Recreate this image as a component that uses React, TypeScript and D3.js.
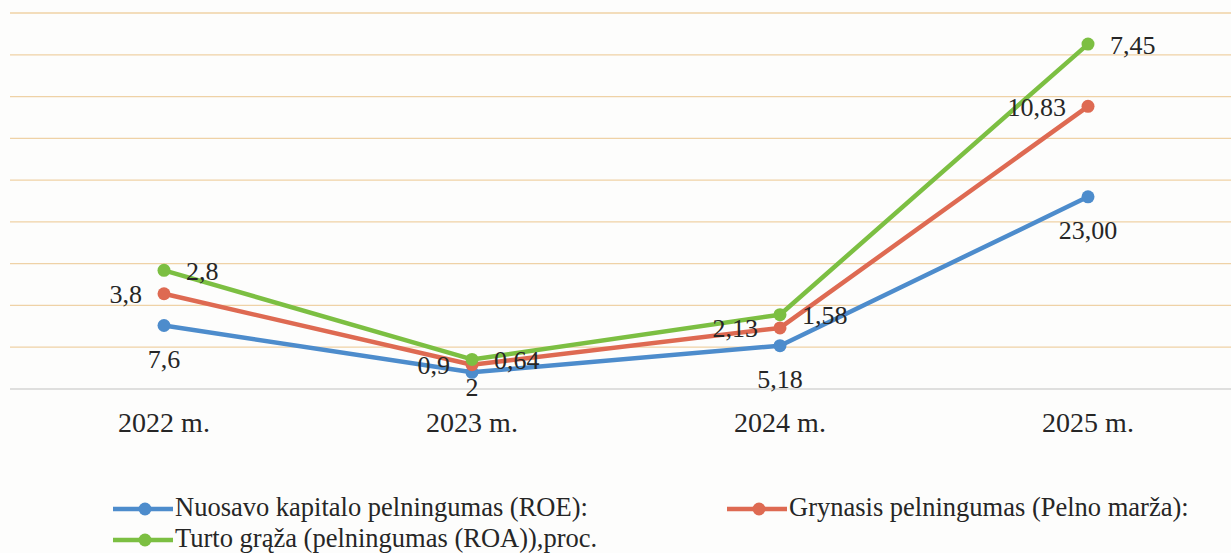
import React from "react";
import * as d3 from "d3";

const categories = ["2022 m.", "2023 m.", "2024 m.", "2025 m."];
const roeValues = [7.6, 2, 5.18, 23.0];
const marginValues = [3.8, 0.9, 2.13, 10.83];
const roaValues = [2.8, 0.64, 1.58, 7.45];
const roeLabels = ["7,6", "2", "5,18", "23,00"];
const marginLabels = ["3,8", "0,9", "2,13", "10,83"];
const roaLabels = ["2,8", "0,64", "1,58", "7,45"];
const seriesNames = [
  "Nuosavo kapitalo pelningumas (ROE):",
  "Grynasis pelningumas (Pelno marža):",
  "Turto grąža (pelningumas (ROA)),proc.",
];
const yTicks = [0, 5, 10, 15, 20, 25, 30, 35, 40, 45];

const W = 1231;
const H = 553;
const COLORS = ["#4d8ccc", "#de6a52", "#7cbf42"];
const FONT = "'Liberation Serif', 'Times New Roman', serif";

export default function App() {
  const x = d3.scaleBand<string>().domain(categories).range([10, 1242]).padding(0);
  const y = d3.scaleLinear().domain([0, 45]).range([389, 13]);
  const cx = (c: string) => (x(c) as number) + x.bandwidth() / 2;

  const table = categories.map((c, i) => ({
    cat: c,
    roe: roeValues[i],
    margin: marginValues[i],
    roa: roaValues[i],
  }));
  const keys = ["roe", "margin", "roa"];
  const stacked = d3.stack<any>().keys(keys)(table);
  const labelSets = [roeLabels, marginLabels, roaLabels];

  const line = d3
    .line<any>()
    .x((d) => cx(d.data.cat))
    .y((d) => y(d[1]));

  return (
    <svg
      width={W}
      height={H}
      style={{ position: "absolute", left: 0, top: 0, background: "#ffffff" }}
      fontFamily={FONT}
    >
      <rect x={0} y={0} width={W} height={H} fill="#fdfdfc" />
      {yTicks.map((t) => (
        <line
          key={t}
          x1={10}
          x2={W}
          y1={y(t)}
          y2={y(t)}
          stroke={t === 0 ? "#d4d4d4" : "#efd2a6"}
          strokeWidth={t === 0 ? 1.5 : 1.3}
        />
      ))}
      {stacked.map((s, si) => (
        <g key={si}>
          <path d={line(s as any) || ""} fill="none" stroke={COLORS[si]} strokeWidth={4.5} strokeLinejoin="round" />
          {s.map((d, i) => (
            <circle key={i} cx={cx(d.data.cat)} cy={y(d[1])} r={6.5} fill={COLORS[si]} />
          ))}
        </g>
      ))}
      {stacked.map((s, si) =>
        s.map((d, i) => {
          const px = cx(d.data.cat);
          const py = y(d[1]);
          const txt = labelSets[si][i];
          if (si === 0) {
            const dy = i === 1 ? 15 : 34;
            return (
              <text key={`l${si}-${i}`} x={px} y={py + dy} textAnchor="middle" dominantBaseline="central" fontSize={26} fill="#262626">
                {txt}
              </text>
            );
          }
          if (si === 1) {
            return (
              <text key={`l${si}-${i}`} x={px - 22} y={py + 1} textAnchor="end" dominantBaseline="central" fontSize={26} fill="#262626">
                {txt}
              </text>
            );
          }
          return (
            <text key={`l${si}-${i}`} x={px + 22} y={py + 1} textAnchor="start" dominantBaseline="central" fontSize={26} fill="#262626">
              {txt}
            </text>
          );
        })
      )}
      {categories.map((c) => (
        <text key={c} x={cx(c)} y={432} textAnchor="middle" fontSize={28} fill="#262626">
          {c}
        </text>
      ))}
      {[
        { i: 0, x: 113, y: 516 },
        { i: 1, x: 727, y: 516 },
        { i: 2, x: 113, y: 547 },
      ].map(({ i, x: lx, y: ly }) => (
        <g key={i}>
          <line x1={lx} x2={lx + 60} y1={ly - 7} y2={ly - 7} stroke={COLORS[i]} strokeWidth={4.5} />
          <circle cx={lx + 32} cy={ly - 7} r={6.5} fill={COLORS[i]} />
          <text x={lx + 62} y={ly} fontSize={26.5} fill="#262626">
            {seriesNames[i]}
          </text>
        </g>
      ))}
    </svg>
  );
}
